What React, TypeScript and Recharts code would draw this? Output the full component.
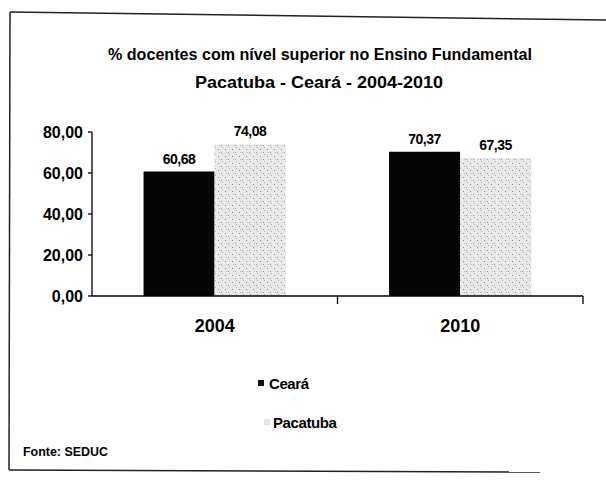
import React from 'react';
import { BarChart, Bar, XAxis, YAxis, Legend, LabelList } from 'recharts';

const categories = ['2004', '2010'];
const cearaValues = [60.68, 70.37];
const pacatubaValues = [74.08, 67.35];
const yTicks = [0, 20, 40, 60, 80];
const titleLine1 = '% docentes com nível  superior no Ensino Fundamental';
const titleLine2 = 'Pacatuba  -  Ceará - 2004-2010';
const sourceText = 'Fonte: SEDUC';

const data = categories.map((c, i) => ({
  year: c,
  'Ceará': cearaValues[i],
  Pacatuba: pacatubaValues[i],
}));

const FONT = '"Liberation Sans", Arial, sans-serif';
const fmt = (v: number) => v.toFixed(2).replace('.', ',');

const XTick = (props: any) => {
  const { x, y, payload, width, visibleTicksCount } = props;
  const n = visibleTicksCount || categories.length;
  const band = (width || 491) / n;
  return (
    <g>
      <line x1={x + band / 2} x2={x + band / 2} y1={y} y2={y + 8} stroke="#000" strokeWidth={1.3} />
      <text x={x} y={y + 30} textAnchor="middle" dominantBaseline="central" fontFamily={FONT} fontWeight="bold" fontSize={18} fill="#000">
        {payload.value}
      </text>
    </g>
  );
};

const LegendContent = (props: any) => {
  const { payload } = props;
  return (
    <div style={{ fontFamily: FONT }}>
      {(payload || []).map((e: any, i: number) => (
        <div key={i} style={{ display: 'flex', alignItems: 'center', height: 18, marginBottom: i === 0 ? 21 : 0, marginLeft: i === 0 ? 1 : 7 }}>
          <span style={{ display: 'inline-block', width: 6, height: 6, background: i === 0 ? '#111' : '#e4e4e4', marginRight: i === 0 ? 5 : 3 }} />
          <span style={{ fontSize: 15, fontWeight: 'bold', letterSpacing: -0.4, color: '#000' }}>{e.value}</span>
        </div>
      ))}
    </div>
  );
};

export default function App() {
  return (
    <div style={{ position: 'absolute', left: 0, top: 0, width: 606, height: 481, background: '#fff' }}>
      <svg width={0} height={0} style={{ position: 'absolute' }}>
        <defs>
          <pattern id="pacPattern" width="7" height="7" patternUnits="userSpaceOnUse">
            <rect width="7" height="7" fill="#e9e9e9" />
            <rect x="1" y="2" width="1" height="1" fill="#8a8a8a" />
            <rect x="4" y="5" width="1" height="1" fill="#9a9a9a" />
            <rect x="5" y="0" width="1" height="1" fill="#b0b0b0" />
            <rect x="2" y="5" width="1" height="1" fill="#c0c0c0" />
          </pattern>
        </defs>
      </svg>
      <BarChart
        width={606}
        height={481}
        data={data}
        margin={{ top: 132, right: 23, left: 0, bottom: 155 }}
        barCategoryGap="21%"
        barGap={0}
      >
        <XAxis
          dataKey="year"
          height={30}
          tickLine={false}
          tickSize={0}
          tickMargin={0}
          axisLine={{ stroke: '#000', strokeWidth: 1.3 }}
          tick={<XTick />}
          interval={0}
        />
        <YAxis
          width={92}
          domain={[0, 80]}
          ticks={yTicks}
          tickFormatter={fmt}
          tickSize={4}
          tickMargin={5}
          axisLine={{ stroke: '#000', strokeWidth: 1.3 }}
          tickLine={{ stroke: '#000', strokeWidth: 1.3 }}
          tick={{ fontFamily: FONT, fontWeight: 'bold', fontSize: 16, fill: '#000' }}
          allowDataOverflow
        />
        <Bar dataKey="Ceará" fill="#050505" isAnimationActive={false}>
          <LabelList dataKey="Ceará" position="top" offset={8} formatter={(v: any) => fmt(Number(v))} style={{ fontFamily: FONT, fontWeight: 'bold', fontSize: 14, fill: '#000', letterSpacing: -0.5 }} />
        </Bar>
        <Bar dataKey="Pacatuba" fill="url(#pacPattern)" isAnimationActive={false}>
          <LabelList dataKey="Pacatuba" position="top" offset={8} formatter={(v: any) => fmt(Number(v))} style={{ fontFamily: FONT, fontWeight: 'bold', fontSize: 14, fill: '#000', letterSpacing: -0.5 }} />
        </Bar>
        <Legend
          layout="vertical"
          align="center"
          verticalAlign="middle"
          content={<LegendContent />}
          wrapperStyle={{ position: 'absolute', left: 257, top: 374, width: 120, height: 60 }}
        />
      </BarChart>
      <svg width={606} height={481} style={{ position: 'absolute', left: 0, top: 0, pointerEvents: 'none' }}>
        <line x1={10} y1={12} x2={606} y2={20} stroke="#222" strokeWidth={1.5} />
        <line x1={10} y1={12} x2={9} y2={470} stroke="#222" strokeWidth={1.5} />
        <line x1={9} y1={470} x2={540} y2={472} stroke="#222" strokeWidth={1.5} />
        <text x={320} y={54} textAnchor="middle" dominantBaseline="central" fontFamily={FONT} fontWeight="bold" fontSize={17} textLength={424} lengthAdjust="spacingAndGlyphs" fill="#000">
          {titleLine1}
        </text>
        <text x={319} y={82} textAnchor="middle" dominantBaseline="central" fontFamily={FONT} fontWeight="bold" fontSize={17} textLength={248} lengthAdjust="spacingAndGlyphs" fill="#000">
          {titleLine2}
        </text>
        <text x={23} y={452} dominantBaseline="central" fontFamily={FONT} fontWeight="bold" fontSize={12} textLength={85} lengthAdjust="spacingAndGlyphs" fill="#000">
          {sourceText}
        </text>
      </svg>
    </div>
  );
}
